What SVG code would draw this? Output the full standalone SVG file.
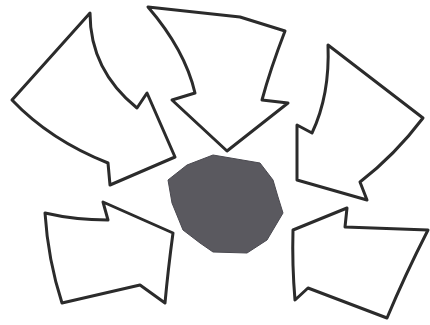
<svg xmlns="http://www.w3.org/2000/svg" width="430" height="325" viewBox="0 0 430 325">
<style>
.arrow{fill:#ffffff;stroke:#2b2b2b;stroke-width:3;stroke-linejoin:round;stroke-linecap:round}
.rock{fill:#5a595f;stroke:#4a4950;stroke-width:1}
</style>
<rect width="430" height="325" fill="#ffffff"/>
<g id="arrow-top-left">
<path class="arrow" d="M90,13 L12,100 Q50,140 108,163 L110,185 L175,157 L147,93 L137,108 Q90,70 90,13 Z"/>
</g>
<g id="arrow-top">
<path class="arrow" d="M148,7 L240,17 L285,31 Q270,70 262,100 L288,103 L227,151 L172,100 L195,93 Q185,50 148,7 Z"/>
</g>
<g id="arrow-right">
<path class="arrow" d="M328,45 L423,118 Q395,155 360,182 L367,200 L297,180 L297,125 L312,133 Q330,95 328,45 Z"/>
</g>
<g id="arrow-bottom-left">
<path class="arrow" d="M45,213 Q75,220 108,220 L103,202 L173,233 Q168,270 165,303 L140,285 L62,303 Q48,260 45,213 Z"/>
</g>
<g id="arrow-bottom-right">
<path class="arrow" d="M293,230 L347,208 L345,227 L428,230 Q405,275 387,318 L308,288 L295,300 Q292,265 293,230 Z"/>
</g>
<g id="rock">
<path class="rock" d="M168,180 L187,165 L213,155 L260,163 L273,180 L278,197 L283,213 L267,240 L247,253 L213,252 L200,243 L183,230 L172,203 Z"/>
</g>
</svg>
